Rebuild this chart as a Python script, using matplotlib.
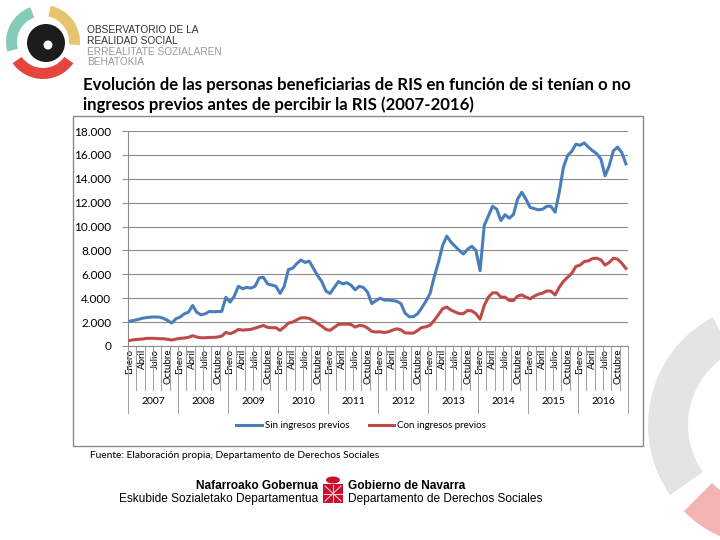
import matplotlib
matplotlib.use("Agg")
import matplotlib.pyplot as plt
import matplotlib.patches as mpatches
import matplotlib.transforms as mtransforms
from matplotlib.lines import Line2D

# monthly beneficiaries, 2007-2016
years = [2007, 2008, 2009, 2010, 2011, 2012, 2013, 2014, 2015, 2016]
month_labels = ['Enero', 'Abril', 'Julio', 'Octubre']

sin_ingresos = [
    2080, 2150, 2230, 2330, 2380, 2420, 2430, 2420, 2320, 2140, 1920, 2280,
    2420, 2690, 2830, 3390, 2830, 2610, 2690, 2890, 2870, 2880, 2900, 4080,
    3670, 4170, 5000, 4800, 4900, 4850, 5000, 5700, 5750, 5200, 5100, 5000,
    4400, 5000, 6400, 6500, 6900, 7200, 7000, 7100, 6500, 5900, 5400, 4600,
    4400, 4900, 5400, 5200, 5300, 5100, 4700, 5000, 4900, 4500, 3550, 3800,
    4000, 3850, 3850, 3800, 3750, 3550, 2750, 2450, 2450, 2700, 3200, 3750,
    4400, 5800, 7000, 8400, 9200, 8700, 8350, 8000, 7700, 8100, 8350, 8000,
    6300, 10100, 10900, 11700, 11450, 10500, 11000, 10700, 11000, 12300, 12870, 12300,
    11600, 11500, 11400, 11450, 11700, 11700, 11200, 12870, 14950, 15950, 16300, 16900,
    16800, 17000, 16650, 16350, 16100, 15650, 14250, 15100, 16350, 16650, 16200, 15250,
]
con_ingresos = [
    470, 530, 560, 580, 640, 640, 640, 610, 610, 560, 500, 580,
    640, 670, 720, 860, 750, 690, 690, 720, 720, 750, 830, 1140,
    1030, 1170, 1390, 1330, 1360, 1390, 1500, 1610, 1720, 1560, 1530, 1530,
    1310, 1580, 1920, 2000, 2190, 2360, 2360, 2310, 2110, 1890, 1670, 1390,
    1310, 1560, 1810, 1830, 1830, 1810, 1580, 1720, 1690, 1500, 1220, 1170,
    1190, 1130, 1190, 1330, 1440, 1350, 1100, 1080, 1080, 1300, 1550, 1600,
    1740, 2150, 2620, 3120, 3260, 3010, 2850, 2710, 2710, 2980, 2930, 2710,
    2240, 3400, 4090, 4450, 4450, 4090, 4090, 3810, 3810, 4170, 4280, 4090,
    3950, 4170, 4340, 4420, 4610, 4590, 4280, 4920, 5410, 5750, 6080, 6660,
    6770, 7070, 7130, 7320, 7350, 7210, 6770, 7000, 7350, 7270, 6930, 6490,
]

BLUE = '#4A7EBB'
RED = '#BE4B48'
GRID = '#8C8C8C'
FONT = 'Lato'

W, H = 720, 540
fig = plt.figure(figsize=(7.2, 5.4), dpi=100)

# background axes in pixel units (y downwards) for the slide decoration
bg = fig.add_axes([0, 0, 1, 1], zorder=0)
bg.set_xlim(0, W)
bg.set_ylim(H, 0)
bg.axis('off')


def ring(center, r, a1, a2, width, color):
    # angles given counter-clockwise on screen; y axis is inverted here
    bg.add_patch(mpatches.Wedge(center, r, -a2, -a1, width=width, color=color, lw=0))


# faded watermark on the right edge
ring((770, 425), 122, 118, 215, 40, '#e4e4e4')
ring((770, 425), 122, 225, 282, 40, '#f4b4b4')

# observatorio logo
ring((43, 42), 37, 110, 195, 11, '#85CBBA')
ring((43, 42), 37, -5, 78, 11, '#E9C46E')
ring((43, 42), 37, 215, 325, 11, '#E5453C')
bg.add_patch(mpatches.Circle((46, 43), 19, color='#1c1c1c', lw=0))
bg.add_patch(mpatches.Circle((48, 45), 4.5, color='white', lw=0))
logo_lines = [('OBSERVATORIO DE LA', '#333333'), ('REALIDAD SOCIAL', '#333333'),
              ('ERREALITATE SOZIALAREN', '#9a9a9a'), ('BEHATOKIA', '#9a9a9a')]
for i, (txt, col) in enumerate(logo_lines):
    bg.text(87, 30 + i * 10.8, txt, fontsize=7.3, color=col, family='Liberation Sans',
            va='center', ha='left')

# title
bg.text(83, 85, 'Evolución de las personas beneficiarias de RIS en función de si tenían o no',
        fontsize=12.1, fontweight='bold', family=FONT, va='center', ha='left')
bg.text(83, 105, 'ingresos previos antes de percibir la RIS (2007-2016)',
        fontsize=12.1, fontweight='bold', family=FONT, va='center', ha='left')

# chart frame
bg.add_patch(mpatches.Rectangle((73, 116), 570, 330, fill=False, ec='#8a8a8a', lw=1))

# source
bg.text(90, 456, 'Fuente: Elaboración propia, Departamento de Derechos Sociales',
        fontsize=7.4, family=FONT, va='center', ha='left')

# gobierno de navarra logo
bg.text(318, 486, 'Nafarroako Gobernua', fontsize=8.6, fontweight='bold',
        family='Liberation Sans', ha='right', va='center')
bg.text(318, 499, 'Eskubide Sozialetako Departamentua', fontsize=8.6,
        family='Liberation Sans', ha='right', va='center')
bg.text(348, 486, 'Gobierno de Navarra', fontsize=8.6, fontweight='bold',
        family='Liberation Sans', ha='left', va='center')
bg.text(348, 499, 'Departamento de Derechos Sociales', fontsize=8.6,
        family='Liberation Sans', ha='left', va='center')
bg.add_patch(mpatches.Rectangle((323, 484), 20, 19, color='#C8102E', lw=0))
bg.add_patch(mpatches.Ellipse((333, 480), 14, 7, color='#C8102E', lw=0))
bg.plot([325, 341], [486, 501], color='#f0c8c8', lw=0.8)
bg.plot([341, 325], [486, 501], color='#f0c8c8', lw=0.8)
bg.plot([333, 333], [485, 502], color='#f0c8c8', lw=0.8)
bg.plot([324, 342], [493.5, 493.5], color='#f0c8c8', lw=0.8)

# chart axes
x0, x1, y0, y1 = 128, 628, 131, 346
ax = fig.add_axes([x0 / W, 1 - y1 / H, (x1 - x0) / W, (y1 - y0) / H], zorder=1)
ax.patch.set_alpha(0)
months = list(range(len(sin_ingresos)))
ax.plot(months, sin_ingresos, color=BLUE, lw=2.2, solid_joinstyle='round', zorder=3)
ax.plot(months, con_ingresos, color=RED, lw=2.2, solid_joinstyle='round', zorder=3)

ax.set_xlim(-0.5, len(months) - 0.5)
ax.set_ylim(0, 18000)
yt = list(range(0, 18001, 2000))
ax.set_yticks(yt)
ax.set_yticklabels([f'{v:,}'.replace(',', '.') for v in yt], fontsize=8.5, family=FONT)
ax.yaxis.grid(True, color=GRID, lw=0.8)
ax.set_axisbelow(True)
for s in ['top', 'right']:
    ax.spines[s].set_visible(False)
ax.spines['left'].set_color(GRID)
ax.spines['bottom'].set_color(GRID)
ax.tick_params(axis='y', length=4, color=GRID, pad=8)

tick_pos = [12 * i + 3 * j for i in range(len(years)) for j in range(4)]
ax.set_xticks(tick_pos)
ax.set_xticklabels(month_labels * len(years), rotation=90, fontsize=7, family=FONT)
ax.tick_params(axis='x', length=0, pad=2)

trans = mtransforms.blended_transform_factory(ax.transData, ax.transAxes)
for k in range(0, len(months), 2):
    if k % 12 == 0:
        continue
    ax.plot([k - 0.5, k - 0.5], [0, -0.205], transform=trans, color='#a0a0a0',
            lw=0.7, clip_on=False)
for i in range(len(years) + 1):
    ax.plot([12 * i - 0.5, 12 * i - 0.5], [0, -0.31], transform=trans, color='#a0a0a0',
            lw=0.7, clip_on=False)
for i, yr in enumerate(years):
    ax.text(12 * i + 5.5, -0.26, str(yr), transform=trans, fontsize=7.5, family=FONT,
            ha='center', va='center')

handles = [Line2D([], [], color=BLUE, lw=2.2), Line2D([], [], color=RED, lw=2.2)]
leg = fig.legend(handles, ['Sin ingresos previos', 'Con ingresos previos'],
                 loc='center', bbox_to_anchor=(361 / W, 1 - 426 / H), ncol=2,
                 frameon=False, prop={'family': FONT, 'size': 7},
                 handlelength=2.6, handletextpad=0.3, columnspacing=2.0)

fig.savefig('out.png', dpi=100)
